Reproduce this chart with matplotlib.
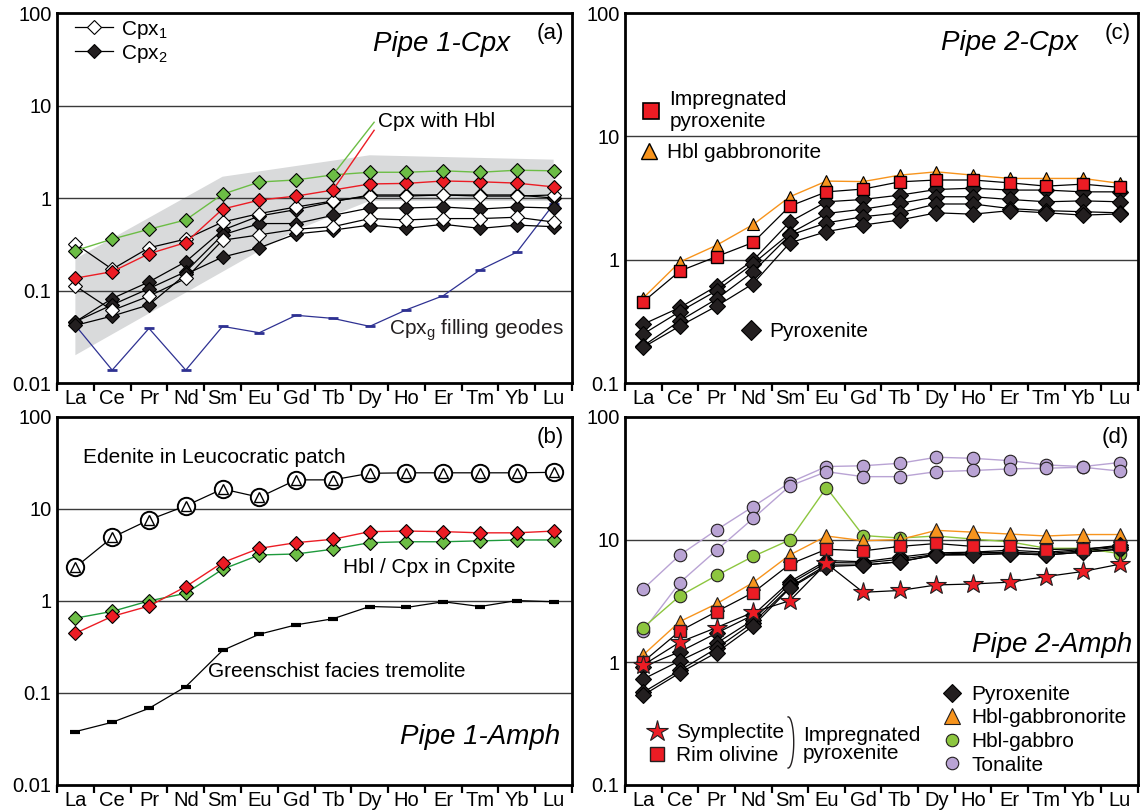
import numpy as np
import matplotlib.pyplot as plt
from matplotlib.lines import Line2D
from matplotlib.ticker import NullLocator

plt.rcParams['font.family'] = ['Liberation Sans', 'DejaVu Sans']
plt.rcParams['mathtext.fontset'] = 'custom'
plt.rcParams['mathtext.rm'] = 'Liberation Sans'
plt.rcParams['mathtext.it'] = 'Liberation Sans:italic'

ree = ['La', 'Ce', 'Pr', 'Nd', 'Sm', 'Eu', 'Gd', 'Tb', 'Dy', 'Ho', 'Er', 'Tm', 'Yb', 'Lu']

# ---- panel (a): Pipe 1 clinopyroxene
a_cpx1 = [
    [0.32, 0.17, 0.29, 0.36, 0.55, 0.68, 0.80, 0.93, 1.05, 1.05, 1.08, 1.05, 1.05, 1.08],
    [0.112, 0.061, 0.087, 0.135, 0.35, 0.40, 0.46, 0.49, 0.60, 0.58, 0.60, 0.60, 0.62, 0.55],
]
a_cpx2 = [
    [0.046, 0.082, 0.124, 0.205, 0.45, 0.64, 0.75, 0.91, 1.08, 1.08, 1.08, 1.08, 1.08, 1.00],
    [0.046, 0.070, 0.105, 0.16, 0.40, 0.53, 0.53, 0.65, 0.78, 0.78, 0.80, 0.76, 0.80, 0.78],
    [0.042, 0.053, 0.070, 0.15, 0.23, 0.29, 0.41, 0.45, 0.51, 0.47, 0.52, 0.47, 0.51, 0.49],
]
a_hbl_green = [0.27, 0.36, 0.46, 0.58, 1.10, 1.49, 1.57, 1.78, 1.90, 1.90, 1.97, 1.90, 2.00, 1.97]
a_hbl_red = [0.136, 0.16, 0.25, 0.33, 0.76, 0.95, 1.05, 1.22, 1.42, 1.44, 1.53, 1.50, 1.45, 1.32]
a_geodes = [0.042, 0.0138, 0.039, 0.0138, 0.041, 0.035, 0.054, 0.050, 0.041, 0.062, 0.088, 0.167, 0.26, 0.86]
# grey envelope (vertices at REE index)
env_top_x = [0, 4, 8, 13]
env_top = [0.22, 1.7, 2.9, 2.6]
env_bot_x = [13, 8, 6, 0]
env_bot = [0.93, 0.93, 0.45, 0.020]

# ---- panel (b): Pipe 1 amphibole
b_edenite = [2.32, 4.9, 7.6, 10.8, 16.5, 13.4, 20.7, 20.7, 24.4, 24.7, 24.7, 24.7, 24.7, 25.0]
b_hbl_red = [0.445, 0.68, 0.88, 1.43, 2.61, 3.73, 4.3, 4.68, 5.67, 5.75, 5.67, 5.5, 5.5, 5.75]
b_hbl_green = [0.65, 0.77, 1.0, 1.21, 2.21, 3.16, 3.24, 3.65, 4.3, 4.4, 4.4, 4.5, 4.6, 4.6]
b_tremolite = [0.038, 0.048, 0.068, 0.117, 0.29, 0.435, 0.55, 0.64, 0.87, 0.85, 0.98, 0.87, 1.01, 0.98]

# ---- panel (c): Pipe 2 clinopyroxene
c_pyroxenite = [
    [0.30, 0.41, 0.61, 0.99, 2.03, 2.95, 3.08, 3.34, 3.71, 3.80, 3.67, 3.67, 3.55, 3.55],
    [0.25, 0.38, 0.56, 0.93, 1.63, 2.37, 2.57, 2.86, 3.24, 3.24, 3.08, 2.95, 3.00, 2.95],
    [0.20, 0.32, 0.48, 0.80, 1.58, 1.99, 2.23, 2.40, 2.83, 2.83, 2.60, 2.50, 2.45, 2.40],
    [0.195, 0.29, 0.42, 0.64, 1.37, 1.69, 1.91, 2.10, 2.40, 2.34, 2.50, 2.40, 2.30, 2.35],
]
c_gabbronorite = [0.49, 0.96, 1.31, 1.93, 3.24, 4.34, 4.3, 4.85, 5.16, 4.85, 4.56, 4.56, 4.56, 4.16]
c_impregnated = [0.456, 0.81, 1.06, 1.38, 2.72, 3.55, 3.74, 4.28, 4.43, 4.43, 4.2, 3.95, 4.1, 3.86]

# ---- panel (d): Pipe 2 amphibole
d_pyroxenite = [
    [0.92, 1.22, 1.73, 2.43, 4.55, 6.75, 6.6, 7.2, 7.8, 7.9, 8.2, 7.9, 8.3, 9.0],
    [0.73, 1.03, 1.43, 2.22, 4.36, 6.5, 6.45, 6.9, 7.6, 7.8, 7.9, 7.7, 8.1, 8.7],
    [0.57, 0.86, 1.30, 2.11, 4.09, 6.22, 6.2, 6.6, 7.5, 7.6, 7.7, 7.5, 7.9, 8.35],
    [0.54, 0.82, 1.20, 1.98, 4.02, 6.03, 6.2, 6.6, 7.5, 7.5, 7.7, 7.5, 7.9, 8.35],
]
d_symplectite = [0.95, 1.46, 1.92, 2.56, 3.18, 6.4, 3.72, 3.85, 4.27, 4.35, 4.5, 5.0, 5.5, 6.3]
d_rim_olivine = [1.01, 1.80, 2.59, 3.7, 6.3, 8.35, 8.1, 8.8, 9.3, 8.8, 8.8, 8.3, 8.4, 8.8]
d_gabbronorite = [1.15, 2.15, 3.0, 4.47, 7.5, 10.7, 9.8, 10.0, 11.9, 11.5, 11.1, 10.7, 11.0, 11.0]
d_gabbro = [1.92, 3.48, 5.1, 7.3, 9.95, 26.5, 10.8, 10.3, 10.7, 10.1, 9.6, 8.5, 8.5, 7.7]
d_tonalite = [
    [3.96, 7.5, 12.0, 18.6, 29.2, 39.4, 40.0, 41.9, 46.9, 46.0, 44.0, 40.6, 39.4, 42.5],
    [1.81, 4.47, 8.2, 14.9, 27.4, 35.8, 32.6, 32.6, 35.8, 36.6, 37.7, 38.2, 38.9, 36.2],
]

RED = '#ec1c24'
GREEN = '#6cbd45'
DKGREEN = '#1e9a3c'
ORANGE = '#f7941d'
PURPLE = '#b9a3d4'
LTGREEN = '#8dc63f'
NAVY = '#2e3192'
FS = 15

x = np.arange(len(ree))


def setup(ax, ylo, yhi):
    ax.set_yscale('log')
    ax.set_ylim(ylo, yhi)
    ax.set_xlim(-0.5, 13.5)
    lo, hi = int(round(np.log10(ylo))), int(round(np.log10(yhi)))
    decades = [10.0 ** k for k in range(lo, hi + 1)]
    ax.set_yticks(decades)
    ax.set_yticklabels([f'{d:g}' for d in decades])
    ax.yaxis.set_minor_locator(NullLocator())
    ax.tick_params(axis='y', which='both', length=0, pad=4, labelsize=14.5)
    ax.set_xticks(x)
    ax.set_xticklabels(ree)
    ax.set_xticks(np.arange(-0.5, 14, 1), minor=True)
    ax.tick_params(axis='x', which='major', length=0, pad=4, labelsize=14.5)
    ax.tick_params(axis='x', which='minor', length=6, width=1.6, direction='out')
    for d in decades[1:-1]:
        ax.axhline(d, color='#3a3a3a', lw=1.0, zorder=0.5)
    for s in ax.spines.values():
        s.set_linewidth(2.0)


fig = plt.figure(figsize=(11.4, 8.11), dpi=100)
ax_a = fig.add_axes([0.050, 0.5277, 0.4518, 0.4562])
ax_b = fig.add_axes([0.050, 0.0321, 0.4518, 0.4538])
ax_c = fig.add_axes([0.5482, 0.5277, 0.4500, 0.4562])
ax_d = fig.add_axes([0.5482, 0.0321, 0.4500, 0.4538])

# ================= (a)
ax = ax_a
setup(ax, 0.01, 100)
ax.fill(env_top_x + env_bot_x, env_top + env_bot, color='#d9dadb', lw=0, zorder=0.3)
ax.plot(x, a_geodes, color=NAVY, lw=0.9, marker='_', ms=7, mew=2, zorder=2)
for s in a_cpx2:
    ax.plot(x, s, color='k', lw=0.9, marker='D', ms=7.5, mfc='#231f20', mec='k', mew=0.8, zorder=3)
for s in a_cpx1:
    ax.plot(x, s, color='k', lw=0.9, marker='D', ms=7.5, mfc='white', mec='k', mew=0.8, zorder=3)
ax.plot(x, a_hbl_red, color=RED, lw=1.0, marker='D', ms=7.5, mfc=RED, mec='k', mew=0.8, zorder=4)
ax.plot(x, a_hbl_green, color=GREEN, lw=1.0, marker='D', ms=7.5, mfc=GREEN, mec='k', mew=0.8, zorder=4)
ax.plot([7, 8.12], [a_hbl_green[7], 6.6], color=GREEN, lw=1.0, zorder=4)
ax.plot([7, 8.12], [a_hbl_red[7], 5.4], color=RED, lw=1.0, zorder=4)
ax.text(0.623, 0.708, 'Cpx with Hbl', transform=ax.transAxes, fontsize=FS, va='center', ha='left')
ax.text(0.645, 0.143, r'Cpx$_\mathregular{g}$ filling geodes', transform=ax.transAxes,
        fontsize=FS, va='center', ha='left', color='#231f20')
ax.text(0.880, 0.916, 'Pipe 1-Cpx', transform=ax.transAxes, fontsize=20, style='italic',
        ha='right', va='center')
ax.text(0.957, 0.946, '(a)', transform=ax.transAxes, fontsize=16, ha='center', va='center')
h1 = Line2D([], [], color='k', lw=0.9, marker='D', ms=7.5, mfc='white', mec='k', mew=0.8)
h2 = Line2D([], [], color='k', lw=0.9, marker='D', ms=7.5, mfc='#231f20', mec='k', mew=0.8)
ax.legend([h1, h2], [r'Cpx$_\mathregular{1}$', r'Cpx$_\mathregular{2}$'], loc='upper left',
          bbox_to_anchor=(0.035, 0.985), frameon=False, fontsize=FS, handlelength=1.8,
          handletextpad=0.4, labelspacing=0.1, borderpad=0, borderaxespad=0)

# ================= (b)
ax = ax_b
setup(ax, 0.01, 100)
ax.plot(x, b_edenite, color='k', lw=0.9, marker='o', ms=12.5, mfc='white', mec='k', mew=1.4, zorder=3)
ax.plot(x, b_edenite, ls='none', marker='^', ms=7, mfc='white', mec='k', mew=1.0, zorder=4)
ax.plot(x, b_hbl_green, color=DKGREEN, lw=1.0, marker='D', ms=7.5, mfc=GREEN, mec='k', mew=0.8, zorder=3)
ax.plot(x, b_hbl_red, color=RED, lw=1.0, marker='D', ms=7.5, mfc=RED, mec='k', mew=0.8, zorder=3)
ax.plot(x, b_tremolite, color='k', lw=0.9, marker='_', ms=7, mew=3, zorder=3)
ax.text(0.050, 0.891, 'Edenite in Leucocratic patch', transform=ax.transAxes, fontsize=FS, va='center')
ax.text(0.555, 0.592, 'Hbl / Cpx in Cpxite', transform=ax.transAxes, fontsize=FS, va='center')
ax.text(0.293, 0.307, 'Greenschist facies tremolite', transform=ax.transAxes, fontsize=FS, va='center')
ax.text(0.977, 0.130, 'Pipe 1-Amph', transform=ax.transAxes, fontsize=20, style='italic',
        ha='right', va='center')
ax.text(0.957, 0.943, '(b)', transform=ax.transAxes, fontsize=16, ha='center', va='center')

# ================= (c)
ax = ax_c
setup(ax, 0.1, 100)
for s in c_pyroxenite:
    ax.plot(x, s, color='k', lw=0.9, marker='D', ms=8, mfc='#231f20', mec='k', mew=0.8, zorder=3)
ax.plot(x, c_gabbronorite, color=ORANGE, lw=1.0, marker='^', ms=9, mfc=ORANGE, mec='k', mew=0.8, zorder=3)
ax.plot(x, c_impregnated, color='k', lw=0.9, marker='s', ms=9, mfc=RED, mec='k', mew=1.0, zorder=4)
hk = dict(frameon=False, fontsize=FS, handlelength=1.0, handletextpad=0.4, borderpad=0, borderaxespad=0)
leg1 = ax.legend([Line2D([], [], ls='none', marker='s', ms=11, mfc=RED, mec='k', mew=1.2)],
                 ['Impregnated\npyroxenite'], loc='upper left', bbox_to_anchor=(0.030, 0.792), **hk)
ax.add_artist(leg1)
leg2 = ax.legend([Line2D([], [], ls='none', marker='^', ms=12, mfc=ORANGE, mec='k', mew=1.0)],
                 ['Hbl gabbronorite'], loc='upper left', bbox_to_anchor=(0.026, 0.649), **hk)
ax.add_artist(leg2)
ax.legend([Line2D([], [], ls='none', marker='D', ms=10, mfc='#231f20', mec='k', mew=0.8)],
          ['Pyroxenite'], loc='upper left', bbox_to_anchor=(0.225, 0.165), **hk)
ax.text(0.883, 0.919, 'Pipe 2-Cpx', transform=ax.transAxes, fontsize=20, style='italic',
        ha='right', va='center')
ax.text(0.961, 0.946, '(c)', transform=ax.transAxes, fontsize=16, ha='center', va='center')

# ================= (d)
ax = ax_d
setup(ax, 0.1, 100)
for s in d_tonalite:
    ax.plot(x, s, color=PURPLE, lw=1.0, marker='o', ms=9, mfc=PURPLE, mec='#231f20', mew=0.8, zorder=2)
ax.plot(x, d_gabbro, color=LTGREEN, lw=1.0, marker='o', ms=9, mfc=LTGREEN, mec='#231f20', mew=0.8, zorder=2)
ax.plot(x, d_gabbronorite, color=ORANGE, lw=1.0, marker='^', ms=9.5, mfc=ORANGE, mec='#231f20', mew=0.8, zorder=3)
for s in d_pyroxenite:
    ax.plot(x, s, color='k', lw=0.9, marker='D', ms=8, mfc='#231f20', mec='k', mew=0.8, zorder=3)
ax.plot(x, d_rim_olivine, color='k', lw=0.9, marker='s', ms=9, mfc=RED, mec='#231f20', mew=1.0, zorder=4)
ax.plot(x, d_symplectite, color='k', lw=0.9, marker='*', ms=15, mfc=RED, mec='#231f20', mew=0.8, zorder=5)
leg3 = ax.legend([Line2D([], [], ls='none', marker='*', ms=16, mfc=RED, mec='#231f20', mew=0.8),
                  Line2D([], [], ls='none', marker='s', ms=10, mfc=RED, mec='#231f20', mew=1.0)],
                 ['Symplectite', 'Rim olivine'], loc='upper left', bbox_to_anchor=(0.043, 0.168),
                 labelspacing=0.2, **hk)
ax.add_artist(leg3)
ax.legend([Line2D([], [], ls='none', marker='D', ms=9, mfc='#231f20', mec='k', mew=0.8),
           Line2D([], [], ls='none', marker='^', ms=11, mfc=ORANGE, mec='#231f20', mew=0.8),
           Line2D([], [], ls='none', marker='o', ms=9, mfc=LTGREEN, mec='#231f20', mew=0.8),
           Line2D([], [], ls='none', marker='o', ms=9, mfc=PURPLE, mec='#231f20', mew=0.8)],
          ['Pyroxenite', 'Hbl-gabbronorite', 'Hbl-gabbro', 'Tonalite'], loc='upper left',
          bbox_to_anchor=(0.618, 0.272), labelspacing=0.22, **hk)
t = np.linspace(-np.pi / 2, np.pi / 2, 60)
ax.plot(0.318 + 0.011 * np.cos(t), 0.1155 + 0.0695 * np.sin(t), color='#231f20', lw=1.0,
        transform=ax.transAxes, clip_on=False)
ax.text(0.347, 0.109, 'Impregnated\npyroxenite', transform=ax.transAxes, fontsize=FS,
        va='center', ha='left', linespacing=0.95)
ax.text(0.988, 0.380, 'Pipe 2-Amph', transform=ax.transAxes, fontsize=20, style='italic',
        ha='right', va='center')
ax.text(0.955, 0.943, '(d)', transform=ax.transAxes, fontsize=16, ha='center', va='center')

fig.savefig('out.png', dpi=100)
